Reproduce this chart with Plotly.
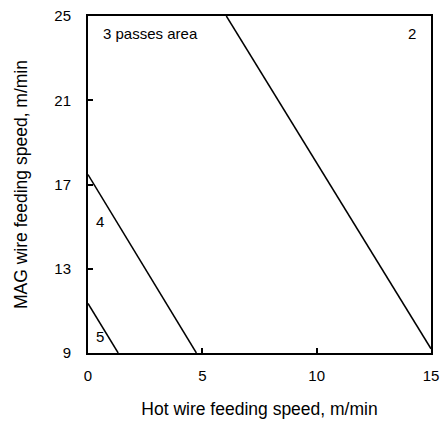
import plotly.graph_objects as go

# Lines (x, y endpoints) for pass-count boundaries
line2_x = [6.05, 15.0]
line2_y = [25.0, 9.2]
line4_x = [0.0, 4.74]
line4_y = [17.47, 9.0]
line5_x = [0.0, 1.32]
line5_y = [11.35, 9.0]

label_text = ["3 passes area", "2", "4", "5"]
label_x = [0.57, 14.17, 0.51, 0.51]
label_y = [24.15, 24.15, 15.23, 9.76]
label_anchor = ["left", "center", "center", "center"]

x_ticks = [0, 5, 10, 15]
y_ticks = [9, 13, 17, 21, 25]

fig = go.Figure()
for xs, ys in [(line2_x, line2_y), (line4_x, line4_y), (line5_x, line5_y)]:
    fig.add_trace(go.Scatter(x=xs, y=ys, mode="lines",
                             line=dict(color="black", width=1.5),
                             showlegend=False, hoverinfo="skip"))

for t, x, y, a in zip(label_text, label_x, label_y, label_anchor):
    fig.add_annotation(x=x, y=y, text=t, showarrow=False, xanchor=a,
                       yanchor="middle", font=dict(size=15, color="black"))

axis_common = dict(showgrid=False, zeroline=False, showline=True, linecolor="black",
                   linewidth=2, mirror=True, ticks="inside", ticklen=5, tickwidth=1.5,
                   tickcolor="black", tickfont=dict(size=15, color="black"))

fig.update_layout(
    width=446, height=427,
    margin=dict(l=88, r=7, t=12, b=74),
    plot_bgcolor="white", paper_bgcolor="white",
    font=dict(family="Liberation Sans, Arial, sans-serif", color="black"),
    xaxis=dict(range=[0, 15], tickvals=x_ticks, ticklabelstandoff=8,
               title=dict(text="Hot wire feeding speed, m/min", font=dict(size=17.5), standoff=20),
               **axis_common),
    yaxis=dict(range=[9, 25], tickvals=y_ticks, ticklabelstandoff=12,
               title=dict(text="MAG wire feeding speed, m/min", font=dict(size=17.5), standoff=22),
               **axis_common),
)

fig.write_html("out.html")
